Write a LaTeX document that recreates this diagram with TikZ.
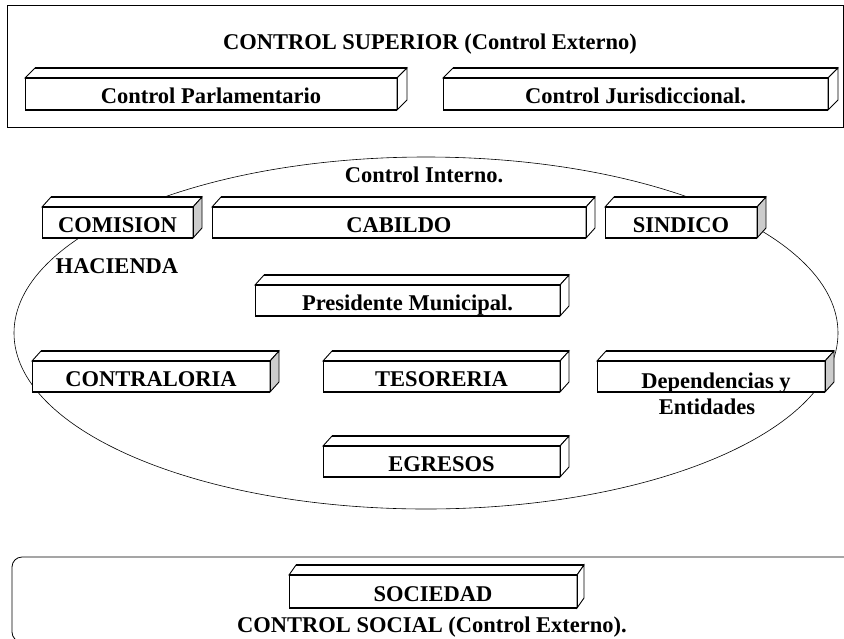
\documentclass[tikz,border=0pt]{standalone}
\usepackage{fontspec}
\setmainfont{Liberation Serif}

% A raised box: front face (named node carrying the text), top face and right side.
% #1 name, #2 left, #3 top, #4 right, #5 bottom, #6 depth in x, #7 side fill, #8 text
\newcommand\cubebox[8]{%
  \node[front, minimum width={(#4-#2)*1pt}, minimum height={(#5-#3)*1pt}] (#1) at (#2,#3) {#8};
  \filldraw[fill=white, edge thin] (#1.north west) -- ++(#6,-10)
     -- ([shift={(#6,-10)}]#1.north east) -- (#1.north east) -- cycle;
  \filldraw[fill=#7, edge thin] (#1.north east) -- ++(#6,-10)
     -- ([shift={(#6,-10)}]#1.south east) -- (#1.south east) -- cycle;
  \draw[edge thin] (#1.north west) -- (#1.south west) (#1.north east) -- (#1.south east);
  \draw[edge thick] (#1.north west) -- (#1.north east) (#1.south west) -- (#1.south east);
  \draw[edge thick] ([shift={(#6,-10)}]#1.north west) -- ([shift={(#6,-10)}]#1.north east);
}

\begin{document}
\begin{tikzpicture}[x=1pt, y=-1pt,
  txt/.style={font=\fontsize{22.5}{25}\selectfont\bfseries},
  lbl/.style={txt, inner sep=0pt, anchor=base},
  front/.style={txt, draw=none, fill=white, rectangle, inner sep=0pt, outer sep=0pt,
    anchor=north west, text height=19pt, text depth=0pt},
  edge thin/.style={line width=0.9pt, line join=miter},
  edge thick/.style={line width=1.7pt, line cap=square},
  frame/.style={line width=0.8pt},
  oval/.style={line width=0.6pt}
]
\useasboundingbox (0,0) rectangle (844,638);
\clip (0,0) rectangle (844,638);

% external control by the higher authorities
\draw[frame] (7,5) rectangle (843,127);
\node[lbl] (sup) at (430,49) {CONTROL SUPERIOR (Control Externo)};
\cubebox{parl}{25}{78}{397}{110}{10}{white}{Control Parlamentario}
\cubebox{juri}{443}{78}{828}{110}{10}{white}{Control Jurisdiccional.}

% internal control
\draw[oval] (426,333) ellipse [x radius=412, y radius=176];
\node[lbl] (int) at (424,182) {Control Interno.};
\cubebox{comi}{42}{207}{193}{238}{9}{black!20}{COMISION}
\cubebox{cabi}{212}{207}{586}{238}{9}{white}{CABILDO}
\cubebox{sind}{605}{207}{757}{238}{9}{black!20}{SINDICO}
\node[lbl] (haci) at (117,273) {HACIENDA};
\cubebox{pres}{255}{285}{560}{316}{9}{white}{Presidente Municipal.}
\cubebox{cont}{32}{361}{270}{392}{9}{black!20}{CONTRALORIA}
\cubebox{teso}{323}{361}{560}{392}{9}{white}{TESORERIA}
\cubebox{depe}{597}{361}{825}{392}{9}{black!20}{}
\node[lbl] (dep) at (716,388) {Dependencias y};
\node[lbl] (ent) at (707,414) {Entidades};
\cubebox{egre}{323}{446}{560}{477}{9}{white}{EGRESOS}

% social control
\draw[frame, rounded corners=10pt] (12,557) rectangle (870,642);
\cubebox{soci}{289}{575}{577}{608}{7}{white}{SOCIEDAD}
\node[lbl] (soc) at (432,632) {CONTROL SOCIAL (Control Externo).};
\end{tikzpicture}
\end{document}
